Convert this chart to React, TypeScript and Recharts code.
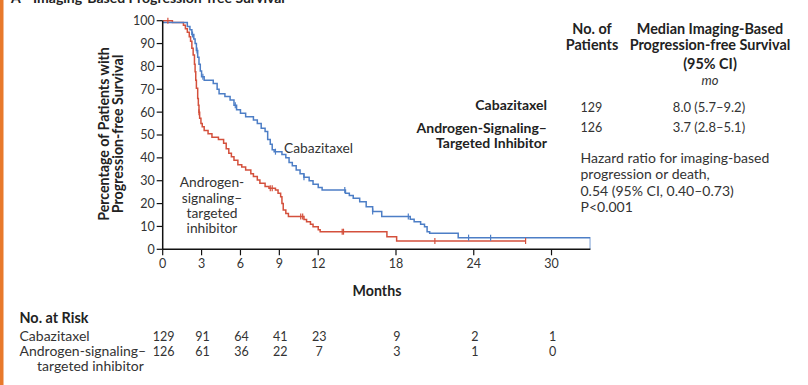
import React from 'react';
import { ComposedChart, Line, Scatter, XAxis, YAxis } from 'recharts';

const monthTicks = [0, 3, 6, 9, 12, 18, 24, 30];
const percentTicks = [0, 10, 20, 30, 40, 50, 60, 70, 80, 90, 100];

const cabazitaxelCurve = [
  { m: 0, p: 99.2 }, { m: 1.9, p: 97.5 }, { m: 2.1, p: 96 }, { m: 2.25, p: 94 }, { m: 2.4, p: 92 },
  { m: 2.5, p: 90 }, { m: 2.6, p: 87 }, { m: 2.7, p: 84 }, { m: 2.8, p: 81 }, { m: 2.9, p: 78 },
  { m: 3.0, p: 75.5 }, { m: 3.2, p: 74 }, { m: 3.9, p: 72.5 }, { m: 4.2, p: 70 }, { m: 4.35, p: 68 },
  { m: 4.8, p: 66.8 }, { m: 5.2, p: 65.3 }, { m: 5.5, p: 63 }, { m: 5.7, p: 61 }, { m: 6.0, p: 59.5 },
  { m: 6.4, p: 58 }, { m: 7.0, p: 56.6 }, { m: 7.3, p: 55 }, { m: 7.6, p: 53 }, { m: 7.9, p: 51.5 },
  { m: 8.1, p: 48 }, { m: 8.3, p: 46 }, { m: 8.45, p: 43.5 }, { m: 8.6, p: 42.7 }, { m: 9.2, p: 41.5 },
  { m: 9.5, p: 40 }, { m: 9.75, p: 38 }, { m: 10.0, p: 36.5 }, { m: 10.3, p: 34.7 }, { m: 10.6, p: 33 },
  { m: 10.9, p: 31.5 }, { m: 11.3, p: 30 }, { m: 11.6, p: 28.5 }, { m: 12.0, p: 27 }, { m: 12.3, p: 25.9 },
  { m: 14.1, p: 24.5 }, { m: 14.4, p: 23.5 }, { m: 14.7, p: 22.3 }, { m: 15.2, p: 20.8 }, { m: 15.7, p: 18.6 },
  { m: 16.2, p: 16.5 }, { m: 16.9, p: 14.3 }, { m: 19.1, p: 13.2 }, { m: 19.4, p: 12.1 }, { m: 19.9, p: 11 },
  { m: 20.2, p: 9.9 }, { m: 20.4, p: 7.7 }, { m: 20.6, p: 7.0 }, { m: 22.8, p: 5.1 }, { m: 33.0, p: 5.1 },
  { m: 33.0, p: 0 },
];

const inhibitorCurve = [
  { m: 0, p: 100 }, { m: 0.75, p: 99.2 }, { m: 1.6, p: 98 }, { m: 1.75, p: 96.5 }, { m: 1.9, p: 95 },
  { m: 2.05, p: 93 }, { m: 2.15, p: 91 }, { m: 2.25, p: 88 }, { m: 2.35, p: 85 }, { m: 2.45, p: 81 },
  { m: 2.5, p: 77.7 }, { m: 2.55, p: 74 }, { m: 2.6, p: 70.4 }, { m: 2.7, p: 66 }, { m: 2.75, p: 63 },
  { m: 2.8, p: 60 }, { m: 2.85, p: 57.3 }, { m: 2.95, p: 55 }, { m: 3.05, p: 53.6 }, { m: 3.2, p: 52 },
  { m: 3.5, p: 50.5 }, { m: 3.8, p: 49 }, { m: 4.3, p: 48 }, { m: 4.7, p: 46.4 }, { m: 4.9, p: 44 },
  { m: 5.1, p: 42 }, { m: 5.3, p: 40.5 }, { m: 5.5, p: 39 }, { m: 5.8, p: 37 }, { m: 6.1, p: 36 },
  { m: 6.4, p: 34.7 }, { m: 6.8, p: 33 }, { m: 7.0, p: 31.8 }, { m: 7.3, p: 30.3 }, { m: 7.5, p: 28.9 },
  { m: 7.9, p: 27.5 }, { m: 8.2, p: 26.7 }, { m: 8.7, p: 25.9 }, { m: 8.9, p: 24.5 }, { m: 9.1, p: 23 },
  { m: 9.2, p: 20 }, { m: 9.3, p: 17.2 }, { m: 9.5, p: 15.7 }, { m: 9.7, p: 14.3 }, { m: 10.9, p: 13 },
  { m: 11.1, p: 12.1 }, { m: 11.4, p: 11 }, { m: 11.6, p: 9.9 }, { m: 12.0, p: 8.5 }, { m: 12.15, p: 7.7 },
  { m: 17.3, p: 5.5 }, { m: 18.05, p: 3.6 }, { m: 28.0, p: 3.6 },
];

const cabazitaxelCensored = [2.3, 2.65, 3.1, 5.6, 8.7, 10.9, 14.05, 16.2, 18.95, 23.6, 25.3];
const inhibitorCensored = [0.4, 2.8, 8.3, 8.45, 10.65, 10.8, 13.85, 13.95, 21.0, 28.0];

const riskMonths = [0, 3, 6, 9, 12, 18, 24, 30];
const cabazitaxelAtRisk = [129, 91, 64, 41, 23, 9, 2, 1];
const inhibitorAtRisk = [126, 61, 36, 22, 7, 3, 1, 0];

const BLUE = '#4d7ec6';
const RED = '#d4503c';
const FONT = 'Lato, "Open Sans", sans-serif';

// plot geometry shared by the chart and the at-risk table
const PLOT_LEFT = 162.7;
const PLOT_RIGHT = 590.4;
const X_MAX = 33;

const valueAt = (curve: { m: number; p: number }[], m: number) => {
  let v = curve[0].p;
  for (const pt of curve) {
    if (pt.m <= m) v = pt.p;
  }
  return v;
};

const cabCensorData = cabazitaxelCensored.map((m) => ({ m, p: valueAt(cabazitaxelCurve, m) }));
const inhCensorData = inhibitorCensored.map((m) => ({ m, p: valueAt(inhibitorCurve, m) }));

const censorShape = (color: string) => (props: any) => {
  const { cx, cy } = props;
  return <line x1={cx} x2={cx} y1={cy - 3} y2={cy + 3} stroke={color} strokeWidth={1.2} />;
};

const riskX = (m: number) => PLOT_LEFT + ((PLOT_RIGHT - PLOT_LEFT) / X_MAX) * m + 1;

export default function App() {
  return (
    <div style={{ position: 'absolute', left: 0, top: 0, width: 808, height: 385, background: '#fff', fontFamily: FONT }}>
      <ComposedChart
        width={808}
        height={385}
        margin={{ top: 20.7, right: 808 - PLOT_RIGHT, bottom: 105.7, left: PLOT_LEFT - 40 }}
      >
        <XAxis
          type="number"
          dataKey="m"
          domain={[0, X_MAX]}
          ticks={monthTicks}
          allowDataOverflow
          height={30}
          axisLine={{ stroke: '#111', strokeWidth: 1.5 }}
          tickLine={{ stroke: '#111', strokeWidth: 1.2 }}
          tickSize={6}
          tickMargin={4}
          tick={{ fill: '#333', fontSize: 12.5, fontFamily: FONT }}
        />
        <YAxis
          type="number"
          dataKey="p"
          domain={[0, 100]}
          ticks={percentTicks}
          width={40}
          axisLine={{ stroke: '#111', strokeWidth: 1.5 }}
          tickLine={{ stroke: '#111', strokeWidth: 1.2 }}
          tickSize={6}
          tickMargin={2}
          tick={{ fill: '#333', fontSize: 12.5, fontFamily: FONT }}
        />
        <Line data={inhibitorCurve} dataKey="p" type="stepAfter" stroke={RED} strokeWidth={1.5} dot={false} isAnimationActive={false} />
        <Line data={cabazitaxelCurve} dataKey="p" type="stepAfter" stroke={BLUE} strokeWidth={1.5} dot={false} isAnimationActive={false} />
        <Scatter data={inhCensorData} dataKey="p" shape={censorShape(RED)} isAnimationActive={false} />
        <Scatter data={cabCensorData} dataKey="p" shape={censorShape(BLUE)} isAnimationActive={false} />
      </ComposedChart>
      <svg width={808} height={385} style={{ position: 'absolute', left: 0, top: 0, pointerEvents: 'none' }} fontFamily={FONT}>
        <rect x={0} y={0} width={3.5} height={385} fill="#e8792b" />
        <text x={11} y={3} fontSize={14} fontWeight="bold" fill="#222">A</text>
        <text x={33} y={3} fontSize={14} fontWeight="bold" fill="#222">Imaging-Based Progression-free Survival</text>

        <text x={109} y={134} fontSize={14.2} fontWeight="bold" fill="#222" textAnchor="middle" transform="rotate(-90 109 134)">Percentage of Patients with</text>
        <text x={123} y={134} fontSize={14.2} fontWeight="bold" fill="#222" textAnchor="middle" transform="rotate(-90 123 134)">Progression-free Survival</text>

        <text x={284} y={152.7} fontSize={13.8} fill="#333">Cabazitaxel</text>
        <g fontSize={13.8} fill="#333" textAnchor="middle">
          <text x={212} y={186.6}>Androgen-</text>
          <text x={212} y={203.2}>signaling–</text>
          <text x={212} y={218.2}>targeted</text>
          <text x={212} y={233.2}>inhibitor</text>
        </g>

        <text x={377} y={296} fontSize={14.2} fontWeight="bold" fill="#222" textAnchor="middle">Months</text>

        <g fontSize={14.4} fontWeight="bold" fill="#222" textAnchor="middle">
          <text x={592} y={33.5}>No. of</text>
          <text x={592} y={50.2}>Patients</text>
          <text x={710} y={33.5}>Median Imaging-Based</text>
          <text x={710} y={50.2}>Progression-free Survival</text>
          <text x={710} y={68.5}>(95% CI)</text>
        </g>
        <text x={710} y={84.5} fontSize={13} fontStyle="italic" fill="#333" textAnchor="middle">mo</text>

        <g fontSize={14} fontWeight="bold" fill="#222" textAnchor="end">
          <text x={547} y={110}>Cabazitaxel</text>
          <text x={547} y={133.3}>Androgen-Signaling–</text>
          <text x={547} y={148.3}>Targeted Inhibitor</text>
        </g>
        <g fontSize={12.5} fill="#333">
          <text x={580.5} y={111.8}>129</text>
          <text x={580.5} y={132.2}>126</text>
        </g>
        <g fontSize={13} fill="#333" textAnchor="middle">
          <text x={709} y={111.8}>8.0 (5.7–9.2)</text>
          <text x={709} y={132.2}>3.7 (2.8–5.1)</text>
        </g>
        <g fontSize={14} fill="#333">
          <text x={580.5} y={163.3}>Hazard ratio for imaging-based</text>
          <text x={580.5} y={179.3}>progression or death,</text>
          <text x={580.5} y={195.7}>0.54 (95% CI, 0.40–0.73)</text>
          <text x={580.5} y={211.7}>P&lt;0.001</text>
        </g>

        <text x={19.5} y={323} fontSize={14.4} fontWeight="bold" fill="#222">No. at Risk</text>
        <g fontSize={14} fill="#333">
          <text x={19.5} y={340.5}>Cabazitaxel</text>
          <text x={19.5} y={356}>Androgen-signaling–</text>
          <text x={37} y={371}>targeted inhibitor</text>
        </g>
        <g fontSize={12.5} fill="#333" textAnchor="middle">
          {riskMonths.map((m, i) => (
            <text key={'c' + m} x={riskX(m)} y={340.5}>{cabazitaxelAtRisk[i]}</text>
          ))}
          {riskMonths.map((m, i) => (
            <text key={'i' + m} x={riskX(m)} y={356}>{inhibitorAtRisk[i]}</text>
          ))}
        </g>
      </svg>
    </div>
  );
}
